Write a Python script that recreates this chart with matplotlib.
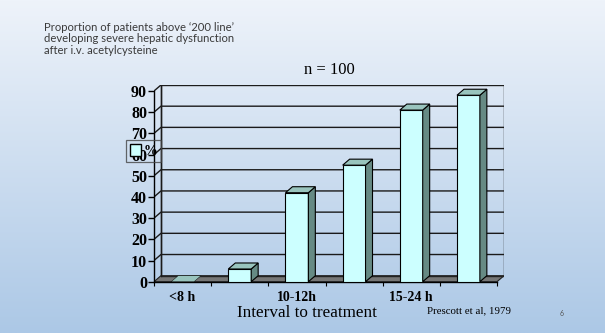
import matplotlib
matplotlib.use("Agg")
import matplotlib.pyplot as plt
import numpy as np
from matplotlib.patches import Polygon, Patch

# data
categories = ["<8 h", "8-10 h", "10-12h", "12-15 h", "15-24 h", ">24 h"]
shown_labels = ["<8 h", "", "10-12h", "", "15-24 h", ""]
values = [0, 6, 42, 55, 81, 88]
yticks = list(range(0, 91, 10))

front_col = "#ccffff"
side_col = "#668a84"
top_col = "#99c4bd"

W, H = 605, 333
fig = plt.figure(figsize=(W / 100, H / 100), dpi=100)

# background gradient
bg = fig.add_axes([0, 0, 1, 1], zorder=-10)
top = np.array([238, 243, 250]) / 255
bot = np.array([172, 200, 230]) / 255
t = np.linspace(0, 1, 200)[:, None]
grad = top[None, :] * (1 - t) + bot[None, :] * t
bg.imshow(grad[:, None, :].repeat(2, axis=1), aspect="auto", extent=[0, 1, 0, 1])
bg.set_axis_off()

# 3d depth offset, in data units
dx = 0.122
dy = 2.83
n = len(values)
x0, x1 = -0.5, n - 0.5
ymax = 90

left_px, right_px, bot_px, top_px = 154, 504, 281.7, 85
ax = fig.add_axes([left_px / W, (H - bot_px) / H,
                   (right_px - left_px) / W, (bot_px - top_px) / H])
ax.set_xlim(x0, x1 + dx)
ax.set_ylim(0, ymax + dy)
ax.patch.set_alpha(0)

# floor
ax.add_patch(Polygon([(x0, 0), (x1, 0), (x1 + dx, dy), (x0 + dx, dy)],
                     closed=True, facecolor="#767676", edgecolor="#222222",
                     lw=0.8, zorder=1))

# back wall and grid lines
ax.add_patch(Polygon([(x0 + dx, dy), (x1 + dx, dy), (x1 + dx, ymax + dy),
                      (x0 + dx, ymax + dy)], closed=True, fill=False,
                     edgecolor="#222222", lw=1.0, zorder=1))
for v in yticks[1:]:
    ax.plot([x0, x0 + dx, x1 + dx], [v, v + dy, v + dy], color="#1a1a1a",
            lw=1.0, zorder=1.5, solid_capstyle="butt")
ax.plot([x0 + dx, x0 + dx], [dy, ymax + dy], color="#1a1a1a", lw=1.0, zorder=1.5)

# bars
w = 0.40
xs = np.arange(n)
ax.bar(xs, values, width=w, color=front_col, edgecolor="black", lw=0.8, zorder=3)
for i, v in zip(xs, values):
    l, r = i - w / 2, i + w / 2
    if v > 0:
        ax.add_patch(Polygon([(r, 0), (r + dx, dy), (r + dx, v + dy), (r, v)],
                             closed=True, facecolor=side_col, edgecolor="black",
                             lw=0.8, zorder=3))
    ax.add_patch(Polygon([(l, v), (r, v), (r + dx, v + dy), (l + dx, v + dy)],
                         closed=True, facecolor=top_col, edgecolor="black",
                         lw=0.8 if v > 0 else 0.3, zorder=3))

# axes
for s in ["top", "right"]:
    ax.spines[s].set_visible(False)
ax.spines["left"].set_bounds(0, ymax)
ax.spines["bottom"].set_bounds(x0, x1)
ax.spines["left"].set_linewidth(1.0)
ax.spines["bottom"].set_linewidth(1.0)
ax.set_yticks(yticks)
ax.set_yticklabels([str(v) for v in yticks], fontfamily="Liberation Serif",
                   fontweight="bold", fontsize=11.5)
ax.tick_params(axis="y", length=4, width=1, pad=1)
ax.set_xticks(xs)
ax.set_xticklabels(shown_labels, fontfamily="Liberation Serif",
                   fontweight="bold", fontsize=10)
ax.set_xticks(np.arange(n + 1) - 0.5, minor=True)
ax.tick_params(axis="x", which="major", length=0, pad=7)
ax.tick_params(axis="x", which="minor", length=3, width=0.8)

# legend
leg = ax.legend(handles=[Patch(facecolor=front_col, edgecolor="black", label="%")],
                loc="center", bbox_to_anchor=(143.5 / W, (H - 151) / H),
                bbox_transform=fig.transFigure, frameon=True, fancybox=False,
                handlelength=0.8, handleheight=0.9, handletextpad=0.2,
                borderpad=0.3, borderaxespad=0,
                prop={"family": "Liberation Serif", "weight": "bold", "size": 10})
leg.get_frame().set_edgecolor("#444444")
leg.get_frame().set_facecolor("none")
leg.get_frame().set_linewidth(0.9)

# texts
fig.text(44 / W, 1 - 22 / H,
         "Proportion of patients above \u2018200 line\u2019\n"
         "developing severe hepatic dysfunction\nafter i.v. acetylcysteine",
         ha="left", va="top", fontfamily="Lato", fontsize=8.1, color="#3a3a3a",
         linespacing=1.05)
fig.text(329 / W, 1 - 70 / H, "n = 100", ha="center", va="center",
         fontfamily="Liberation Serif", fontsize=12)
fig.text(307 / W, 1 - 313 / H, "Interval to treatment", ha="center", va="center",
         fontfamily="Liberation Serif", fontsize=12.3)
fig.text(469 / W, 1 - 311 / H, "Prescott et al, 1979", ha="center", va="center",
         fontfamily="Liberation Serif", fontsize=7.8)
fig.text(562 / W, 1 - 313 / H, "6", ha="center", va="center",
         fontfamily="Lato", fontsize=5, color="#555555")

fig.savefig("out.png", dpi=100)
